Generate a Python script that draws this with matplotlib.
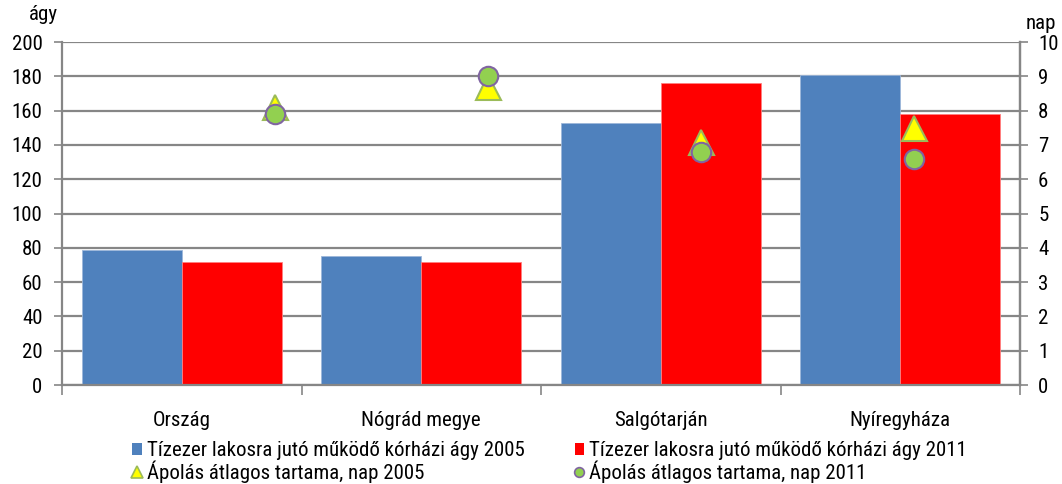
import numpy as np
import matplotlib.pyplot as plt
from matplotlib import font_manager
from matplotlib.lines import Line2D
from matplotlib.patches import Patch

names = {f.name for f in font_manager.fontManager.ttflist}
fam = next((n for n in ['Liberation Sans Narrow', 'Arial Narrow', 'Roboto Condensed',
                        'Archivo Narrow'] if n in names), 'Liberation Sans')
plt.rcParams.update({'font.family': [fam, 'Liberation Sans', 'DejaVu Sans'],
                     'font.size': 15})

categories = ['Ország', 'Nógrád megye', 'Salgótarján', 'Nyíregyháza']
beds_2005 = [79, 75, 153, 181]
beds_2011 = [71.5, 71.5, 176, 158]
stay_2005 = [8.1, 8.7, 7.1, 7.5]
stay_2011 = [7.9, 9.0, 6.8, 6.6]
labels = ['Tízezer lakosra jutó működő kórházi ágy 2005',
          'Tízezer lakosra jutó működő kórházi ágy 2011',
          'Ápolás átlagos tartama, nap 2005',
          'Ápolás átlagos tartama, nap 2011']

grey = '#868686'
blue = '#4F81BD'
red = '#FF0000'

fig = plt.figure(figsize=(10.62, 4.84), dpi=100)
ax = fig.add_axes([0.0584, 0.2045, 0.9021, 0.7085])
x = np.arange(len(categories))
w = 0.4175
ax.bar(x - w, beds_2005, w, align='edge', color=blue, edgecolor='#9DB7DA', linewidth=0.6, zorder=2)
ax.bar(x, beds_2011, w, align='edge', color=red, edgecolor='#FF8080', linewidth=0.6, zorder=2)
ax.set_xlim(-0.5, 3.5)
ax.set_ylim(0, 200)
ax.set_yticks(np.arange(0, 201, 20))
ax.yaxis.grid(True, color=grey, linewidth=1.6)
ax.set_axisbelow(True)
ax.set_xticks(x)
ax.set_xticklabels(categories)
ax.set_xticks(np.arange(-0.5, 3.6, 1), minor=True)
ax.tick_params(axis='x', which='major', length=0, pad=19)
ax.tick_params(axis='x', which='minor', length=7, width=1.2, color=grey)
ax.tick_params(axis='y', length=6, width=1.2, color=grey, pad=8)
ax.spines['top'].set_visible(False)
for s in ['left', 'right', 'bottom']:
    ax.spines[s].set_color(grey)
    ax.spines[s].set_linewidth(1.6)

ax2 = ax.twinx()
ax2.set_ylim(0, 10)
ax2.set_yticks(np.arange(0, 11, 1))
ax2.tick_params(axis='y', length=6, width=1.2, color=grey, pad=7)
for s in ['top', 'left', 'bottom']:
    ax2.spines[s].set_visible(False)
ax2.spines['right'].set_color(grey)
ax2.spines['right'].set_linewidth(1.6)
# markers sit on Excel's secondary category axis (positions 1..4 over 0..4.5)
mx = (np.arange(len(categories)) + 1) * 4 / 4.5 - 0.5
ax2.plot(mx, stay_2005, linestyle='none', marker='^', markersize=18,
         markerfacecolor='#FFFF00', markeredgecolor='#9BBB59', markeredgewidth=1.5, zorder=3)
ax2.plot(mx, stay_2011, linestyle='none', marker='o', markersize=14,
         markerfacecolor='#92D050', markeredgecolor='#8064A2', markeredgewidth=1.5, zorder=4)

fig.text(0.027, 0.97, 'ágy', ha='left', va='center')
fig.text(0.966, 0.952, 'nap', ha='left', va='center')

handles = [Patch(facecolor=blue),
           Line2D([], [], linestyle='none', marker='^', markersize=8,
                  markerfacecolor='#FFFF00', markeredgecolor='#9BBB59', markeredgewidth=1.2),
           Patch(facecolor=red),
           Line2D([], [], linestyle='none', marker='o', markersize=7,
                  markerfacecolor='#92D050', markeredgecolor='#8064A2', markeredgewidth=1.2)]
fig.legend(handles, [labels[0], labels[2], labels[1], labels[3]], ncol=2,
           loc='lower left', bbox_to_anchor=(0.111, -0.028), frameon=False,
           handlelength=0.45, handleheight=0.45, handletextpad=0.25,
           columnspacing=2.4, labelspacing=0.0, borderpad=0.2)

fig.savefig('out.png', dpi=100)
